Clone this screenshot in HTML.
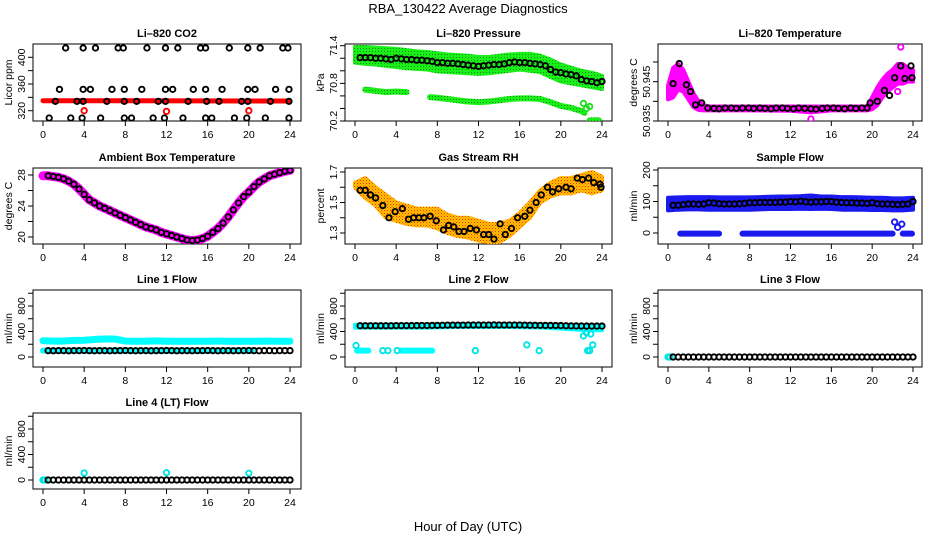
<!DOCTYPE html>
<html><head><meta charset="utf-8">
<style>
html,body{margin:0;padding:0;background:#fff;}
svg{display:block;font-family:"Liberation Sans",Arial,sans-serif;}
</style></head>
<body>
<svg id="chart" width="936" height="540" viewBox="0 0 936 540">
<defs>
<pattern id="rhpat" width="3" height="3" patternUnits="userSpaceOnUse"><rect width="3" height="3" fill="#ffc400"/><rect width="1" height="1" fill="#ff2a00"/><rect x="1.5" y="1.5" width="1" height="1" fill="#ff5a00"/></pattern>
<pattern id="grpat" width="3" height="3" patternUnits="userSpaceOnUse"><rect width="3" height="3" fill="#18f018"/><rect width="1" height="1" fill="#1a8a1a"/></pattern>
</defs>
<text x="468" y="13" text-anchor="middle" font-size="13">RBA_130422  Average Diagnostics</text>
<text x="468" y="531" text-anchor="middle" font-size="13">Hour of Day (UTC)</text>
</svg>
<script>
const H=[0.5,1,1.5,2,2.5,3,3.5,4,4.5,5,5.5,6,6.5,7,7.5,8,8.5,9,9.5,10,10.5,11,11.5,12,12.5,13,13.5,14,14.5,15,15.5,16,16.5,17,17.5,18,18.5,19,19.5,20,20.5,21,21.5,22,22.5,23,23.5,24];
const HH=[0,1,2,3,4,5,6,7,8,9,10,11,12,13,14,15,16,17,18,19,20,21,22,23,24];
const xTicks=[0,4,8,12,16,20,24];

// CO2
const co2BlackX=[2.2,3.9,5.1,7.3,7.8,10.1,11.9,13.1,15.3,15.8,18.1,19.9,21.1,23.3,23.8, 1.6,3.9,4.6,6.7,7.9,9.6,11.9,12.6,14.6,15.8,17.4,19.9,20.6,22.6,23.9, 1.2,3.3,3.9,6.2,7.9,9.1,11.2,11.9,14.1,15.9,17.1,19.3,19.9,22.1,23.9, 0.6,2.7,3.8,5.6,7.9,8.6,10.7,11.8,13.6,15.8,16.4,18.6,19.8,21.6,23.9];
const co2BlackY=[414,414,414,414,414,414,414,414,414,414,414,414,414,414,414, 352,352,352,352,352,352,352,352,352,352,352,352,352,352,352, 334,334,334,334,334,334,334,334,334,334,334,334,334,334,334, 309,309,309,309,309,309,309,309,309,309,309,309,309,309,309];
const co2RedX=[0,24];
const co2RedY=[335,334.5];
const co2OutX=[4,12,20];
const co2OutY=[320,319,320];

// Pressure
const presBlack=[71.21,71.21,71.21,71.2,71.2,71.19,71.18,71.2,71.19,71.18,71.18,71.17,71.17,71.16,71.15,71.13,71.13,71.12,71.12,71.11,71.1,71.09,71.08,71.07,71.08,71.09,71.1,71.1,71.11,71.13,71.14,71.13,71.13,71.12,71.11,71.1,71.08,71.02,70.98,70.97,70.95,70.94,70.92,70.86,70.84,70.83,70.81,70.83];
const presHi=[71.38,71.38,71.37,71.36,71.35,71.33,71.31,71.3,71.28,71.26,71.25,71.24,71.22,71.22,71.24,71.26,71.27,71.27,71.24,71.18,71.1,71.05,71.0,70.97,70.92];
const presLo=[71.13,71.11,71.1,71.08,71.06,71.04,71.03,71.02,70.99,70.98,70.97,70.96,70.95,70.96,70.98,71.0,71.02,71.0,70.98,70.9,70.83,70.8,70.77,70.74,70.71];
const presLowAX=[1,2,3,4,5];
const presLowAY=[70.7,70.68,70.66,70.67,70.66];
const presLowBX=[7.3,8,9,10,11,12,13,14,15,16,17,18,19,20,21,22,22.3];
const presLowBY=[70.58,70.57,70.55,70.53,70.51,70.5,70.51,70.53,70.55,70.56,70.56,70.55,70.5,70.44,70.41,70.36,70.33];
const presLowCX=[22.8,23.7];
const presLowCY=[70.21,70.21];
const presPtX=[22.2,22.5,22.8];
const presPtY=[70.48,70.4,70.43];

// Li-820 temperature
const tempBlackX=[0.5,1.1,1.8,2.2,2.7,3.3,3.9,4.5,5,5.6,6.2,6.7,7.3,7.9,8.4,9,9.5,10.1,10.6,11.2,11.7,12.3,12.8,13.4,14,14.5,15.1,15.6,16.2,16.7,17.3,17.9,18.4,19,19.5,19.8,20.5,21.2,21.7,22.2,22.8,23.2,23.8,23.9];
const tempBlackY=[50.9445,50.9496,50.9442,50.9425,50.9391,50.9396,50.9383,50.9382,50.9381,50.9383,50.9383,50.9382,50.9383,50.9383,50.9382,50.9383,50.9382,50.9381,50.9383,50.9383,50.9382,50.9381,50.9383,50.9382,50.9381,50.938,50.9382,50.9383,50.9383,50.9382,50.9381,50.9383,50.9382,50.9383,50.9383,50.9396,50.94,50.9428,50.9415,50.946,50.949,50.9458,50.949,50.946];
const tempBandX=[0,0.5,1,1.5,2,2.5,3,3.5,4,8,12,14,16,19.5,20,20.5,21,21.5,22,22.5,23,23.5,24];
const tempHi=[50.944,50.9485,50.9495,50.948,50.945,50.942,50.940,50.939,50.9387,50.9387,50.9387,50.9387,50.9387,50.9387,50.941,50.9435,50.9455,50.947,50.948,50.9495,50.9495,50.9485,50.948];
const tempLo=[50.9405,50.941,50.943,50.9425,50.9405,50.9385,50.9378,50.9377,50.9377,50.9377,50.9376,50.9372,50.9377,50.9377,50.938,50.939,50.941,50.9425,50.9435,50.9445,50.9445,50.945,50.945];
const tempOutX=[22.8,14,0.2,22.5];
const tempOutY=[50.9538,50.9355,50.9415,50.9425];

// Ambient
const ambVals=[27.9,27.8,27.7,27.5,27.2,26.8,26.2,25.5,24.8,24.4,24.0,23.7,23.4,23.1,22.8,22.5,22.2,21.9,21.6,21.3,21.1,20.9,20.6,20.4,20.2,20.0,19.8,19.6,19.55,19.6,19.8,20.1,20.6,21.1,21.8,22.6,23.5,24.4,25.2,25.8,26.5,27.1,27.5,27.9,28.1,28.3,28.5,28.6];
const ambStartX=[0];
const ambStartY=[27.9];

// RH
const rhX=[0.5,1,1.5,2,2.7,3.3,3.9,4.6,5.2,5.7,6.2,6.7,7.3,7.9,8.6,9.1,9.6,10.1,10.6,11.2,11.8,12.5,13,13.5,14.1,14.6,15.2,15.8,16.5,17,17.6,18.1,18.7,19.2,19.8,20.5,21,21.6,22.1,22.7,23.2,23.8,23.9];
const rhY=[1.58,1.58,1.55,1.53,1.48,1.4,1.44,1.46,1.39,1.4,1.4,1.4,1.41,1.38,1.32,1.35,1.34,1.31,1.31,1.33,1.32,1.29,1.29,1.26,1.36,1.29,1.33,1.4,1.41,1.45,1.5,1.55,1.6,1.57,1.59,1.6,1.59,1.66,1.65,1.66,1.63,1.62,1.6];
const rhHi=[1.63,1.66,1.6,1.55,1.5,1.48,1.46,1.46,1.46,1.42,1.4,1.4,1.38,1.36,1.36,1.38,1.43,1.5,1.58,1.63,1.66,1.66,1.68,1.7,1.67];
const rhLo=[1.6,1.53,1.48,1.4,1.38,1.36,1.35,1.35,1.33,1.3,1.28,1.27,1.25,1.24,1.24,1.28,1.34,1.4,1.5,1.54,1.56,1.56,1.58,1.56,1.58];

// Sample flow
const sfBlack=[88,88,90,92,92,91,92,96,95,93,92,92,92,93,94,96,96,97,97,97,97,98,98,100,99,101,99,98,99,99,100,100,98,97,96,96,95,95,94,96,93,92,92,91,90,91,92,100];
const sfHi=[112,113,114,114,114,113,113,113,113,114,115,116,116,117,119,116,116,114,114,113,112,112,110,110,112];
const sfLo=[72,74,75,75,74,74,74,74,74,75,76,76,76,77,76,77,76,74,74,74,73,73,72,72,74];
const sfLowStart=[1.2,7.3,23.0];
const sfLowEnd=[5.0,22.0,23.9];
const sfLowVal=[-2,-2,-2];
const sfPtX=[22.2,22.5,22.9];
const sfPtY=[35,18,28];

// Line 1
const l1Black=[100,98,100,100,98,100,100,102,100,98,100,100,98,100,100,102,100,98,100,100,98,100,100,102,100,98,100,100,98,100,100,102,100,98,100,100,98,100,100,102,100,98,100,100,98,100,100,100];
const l1CyanHi=[255,250,250,260,262,275,282,282,250,248,248,252,248,248,248,248,248,250,248,248,248,248,250,248,248];
const l1CyanLowX=[0,20.3];
const l1CyanLowY=[100,100];

// Line 2
const l2Black=[490,490,490,490,490,490,490,492,492,492,493,493,494,494,495,496,498,500,500,500,500,501,501,502,502,502,503,502,502,502,502,501,500,498,497,496,495,495,494,493,490,488,487,486,485,485,485,485];
const l2Hi=[505,505,505,505,505,505,505,505,510,512,512,512,512,512,512,512,512,510,508,505,500,495,495,495,495];
const l2Lo=[460,460,460,460,460,460,460,460,465,468,470,470,470,470,470,470,468,465,462,455,445,435,425,420,420];
const l2LowStart=[0.2,4.5];
const l2LowEnd=[1.3,7.5];
const l2LowVal=[100,100];
const l2PtX=[0.1,2.7,3.2,4.1,11.7,16.7,17.9,22.2,22.5,22.6,22.8,22.9,23.1];
const l2PtY=[180,100,100,100,100,190,100,330,380,100,100,360,190];

// Line 3
const l3Black=[0,0,0,0,0,0,0,0,0,0,0,0,0,0,0,0,0,0,0,0,0,0,0,0,0,0,0,0,0,0,0,0,0,0,0,0,0,0,0,0,0,0,0,0,0,0,0,0];
const l3CyanX=[0,0.1,0.2];
const l3CyanY=[0,0,0];

// Line 4
const l4Black=[0,0,0,0,0,0,0,0,0,0,0,0,0,0,0,0,0,0,0,0,0,0,0,0,0,0,0,0,0,0,0,0,0,0,0,0,0,0,0,0,0,0,0,0,0,0,0,0];
const l4CyanX=[0,0.1,0.2,4,12,20];
const l4CyanY=[0,0,0,110,115,105];

// ---- layout ----
const svg=document.getElementById('chart');
const NS='http://www.w3.org/2000/svg';
const COLX0=[43,355,668], COLX24=[290,602,913];
const COLL=[33,345,658], COLR=[301,612,922];
const ROWT=[44,168,290,413], ROWB=[121,244,367,489];

function mk(tag,attrs,parent){const e=document.createElementNS(NS,tag);for(const k in attrs)e.setAttribute(k,attrs[k]);(parent||svg).appendChild(e);return e;}

function makePanel(cfg){
  const g=mk('g',{});
  
  
  const c=cfg.col,r=cfg.row;
  const p={sx:h=>COLX0[c]+h*(COLX24[c]-COLX0[c])/24,
           sy:v=>cfg.pa+(v-cfg.va)*(cfg.pb-cfg.pa)/(cfg.vb-cfg.va),g:g};
  const L=COLL[c],R=COLR[c],T=ROWT[r],B=ROWB[r];
  const box=mk('rect',{x:L,y:T,width:R-L,height:B-T,fill:'none',stroke:'#000','stroke-width':1},g);
  
  
  const t=mk('text',{x:(L+R)/2,y:T-7,'text-anchor':'middle','font-size':11,'font-weight':'bold'},g);
  t.textContent=cfg.title;
  
  
  const xa=mk('g',{},g);
  
  
  mk('line',{x1:p.sx(0),x2:p.sx(24),y1:B,y2:B,stroke:'#000'},xa);
  xTicks.forEach(v=>{
    mk('line',{x1:p.sx(v),x2:p.sx(v),y1:B,y2:B+5,stroke:'#000'},xa);
    const tl=mk('text',{x:p.sx(v),y:B+17,'text-anchor':'middle','font-size':10.5},xa);
    tl.textContent=v;
    
    
  });
  const ya=mk('g',{},g);
  
  
  const tk=cfg.ticks;
  mk('line',{x1:L,x2:L,y1:p.sy(tk[0]),y2:p.sy(tk[tk.length-1]),stroke:'#000'},ya);
  tk.forEach(v=>{mk('line',{x1:L-5,x2:L,y1:p.sy(v),y2:p.sy(v),stroke:'#000'},ya);});
  cfg.labels.forEach(v=>{
    const y=p.sy(v);
    const tl=mk('text',{x:L-8,y:y,'text-anchor':'middle','font-size':10.5,transform:`rotate(-90 ${L-8} ${y})`},ya);
    tl.textContent=cfg.fmt?cfg.fmt(v):v;
    
    
  });
  const yt=mk('text',{x:L-21,y:(T+B)/2,'text-anchor':'middle','font-size':10.5,transform:`rotate(-90 ${L-21} ${(T+B)/2})`},g);
  yt.textContent=cfg.ylab;
  
  
  const cp=mk('clipPath',{id:'cp'+cfg.name},g);
  mk('rect',{x:L,y:T,width:R-L,height:B-T},cp);
  p.data=mk('g',{'clip-path':`url(#cp${cfg.name})`},g);
  
  
  return p;
}
function circles(p,xs,ys,color,name,r,sw){
  const g=mk('g',{},p.data);
  
  
  xs.forEach((x,i)=>{
    const c=mk('circle',{cx:p.sx(x),cy:p.sy(ys[i]),r:r||2.7,fill:'none',stroke:color,'stroke-width':sw||1.9},g);
    
    
  });
}
function band(p,xs,hi,lo,fill,name){
  let pts=xs.map((x,i)=>p.sx(x)+','+p.sy(hi[i]));
  for(let i=xs.length-1;i>=0;i--)pts.push(p.sx(xs[i])+','+p.sy(lo[i]));
  const e=mk('polygon',{points:pts.join(' '),fill:fill,stroke:fill,'stroke-width':4,'stroke-linejoin':'round'},p.data);
  
  
}
function line(p,xs,ys,color,w,name){
  const e=mk('polyline',{points:xs.map((x,i)=>p.sx(x)+','+p.sy(ys[i])).join(' '),fill:'none',stroke:color,'stroke-width':w,'stroke-linecap':'round','stroke-linejoin':'round'},p.data);
  
  
}
function segs(p,st,en,vals,color,w,name){
  st.forEach((s,i)=>line(p,[s,en[i]],[vals[i],vals[i]],color,w,name));
}

let p=makePanel({name:'co2',title:'Li\u2013820 CO2',ylab:'Licor ppm',col:0,row:0,va:320,pa:110.7,vb:400,pb:57.3,ticks:[320,340,360,380,400],labels:[320,360,400]});
line(p,co2RedX,co2RedY,'#ff0000',5,'co2-red-series');
circles(p,co2OutX,co2OutY,'#ff0000','co2-red-outliers');
circles(p,co2BlackX,co2BlackY,'#000','co2-black-series');

p=makePanel({name:'pressure',title:'Li\u2013820 Pressure',ylab:'kPa',col:1,row:0,va:70.2,pa:121,vb:71.4,pb:45.7,ticks:[70.2,70.4,70.6,70.8,71.0,71.2,71.4],labels:[70.2,70.8,71.4],fmt:v=>v.toFixed(1)});
band(p,HH,presHi,presLo,'url(#grpat)','pressure-green-band');
line(p,presLowAX,presLowAY,'url(#grpat)',6,'pressure-green-low-a');
line(p,presLowBX,presLowBY,'url(#grpat)',6,'pressure-green-low-b');
line(p,presLowCX,presLowCY,'url(#grpat)',6,'pressure-green-low-c');
circles(p,presPtX,presPtY,'#22dd22','pressure-green-points');
circles(p,H,presBlack,'#000','pressure-black-series');

p=makePanel({name:'li820-temp',title:'Li\u2013820 Temperature',ylab:'degrees C',col:2,row:0,va:50.935,pa:121,vb:50.950,pb:62,ticks:[50.935,50.940,50.945,50.950],labels:[50.935,50.945],fmt:v=>v.toFixed(3)});
band(p,tempBandX,tempHi,tempLo,'#ff00ff','li820-temp-magenta-band');
circles(p,tempOutX,tempOutY,'#ff00ff','li820-temp-magenta-points');
circles(p,tempBlackX,tempBlackY,'#000','li820-temp-black-series');

p=makePanel({name:'ambient',title:'Ambient Box Temperature',ylab:'degrees C',col:0,row:1,va:20,pa:237,vb:28,pb:175,ticks:[20,22,24,26,28],labels:[20,24,28]});
line(p,ambStartX.concat(H),ambStartY.concat(ambVals),'#ff00ff',9,'ambient-magenta-series');
circles(p,H,ambVals,'#000','ambient-black-series');

p=makePanel({name:'rh',title:'Gas Stream RH',ylab:'percent',col:1,row:1,va:1.3,pa:233,vb:1.7,pb:172,ticks:[1.3,1.4,1.5,1.6,1.7],labels:[1.3,1.5,1.7],fmt:v=>v.toFixed(1)});
band(p,HH,rhHi,rhLo,'url(#rhpat)','rh-orange-band');
circles(p,rhX,rhY,'#000','rh-black-series');

p=makePanel({name:'sample-flow',title:'Sample Flow',ylab:'ml/min',col:2,row:1,va:0,pa:233,vb:200,pb:170,ticks:[0,50,100,150,200],labels:[0,100,200]});
band(p,HH,sfHi,sfLo,'#1a1aee','sample-flow-blue-band');
segs(p,sfLowStart,sfLowEnd,sfLowVal,'#1a1aee',6,'sample-flow-blue-low');
circles(p,sfPtX,sfPtY,'#1a1aee','sample-flow-blue-points');
circles(p,H,sfBlack,'#000','sample-flow-black-series');

p=makePanel({name:'line1',title:'Line 1 Flow',ylab:'ml/min',col:0,row:2,va:0,pa:357,vb:800,pb:306,ticks:[0,200,400,600,800,1000],labels:[0,400,800]});
line(p,HH,l1CyanHi,'#00ffff',7,'line1-cyan-upper');
line(p,l1CyanLowX,l1CyanLowY,'#00ffff',6,'line1-cyan-lower');
circles(p,H,l1Black,'#000','line1-black-series');

p=makePanel({name:'line2',title:'Line 2 Flow',ylab:'ml/min',col:1,row:2,va:0,pa:357,vb:800,pb:306,ticks:[0,200,400,600,800,1000],labels:[0,400,800]});
band(p,HH,l2Hi,l2Lo,'#00ffff','line2-cyan-band');
segs(p,l2LowStart,l2LowEnd,l2LowVal,'#00ffff',6,'line2-cyan-low');
circles(p,l2PtX,l2PtY,'#00e5e5','line2-cyan-points');
circles(p,H,l2Black,'#000','line2-black-series');

p=makePanel({name:'line3',title:'Line 3 Flow',ylab:'ml/min',col:2,row:2,va:0,pa:357,vb:800,pb:306,ticks:[0,200,400,600,800,1000],labels:[0,400,800]});
circles(p,l3CyanX,l3CyanY,'#00e5e5','line3-cyan-points');
circles(p,H,l3Black,'#000','line3-black-series');

p=makePanel({name:'line4',title:'Line 4 (LT) Flow',ylab:'ml/min',col:0,row:3,va:0,pa:480,vb:800,pb:429,ticks:[0,200,400,600,800,1000],labels:[0,400,800]});
circles(p,l4CyanX,l4CyanY,'#00e5e5','line4-cyan-points');
circles(p,H,l4Black,'#000','line4-black-series');
</script>
</body></html>
